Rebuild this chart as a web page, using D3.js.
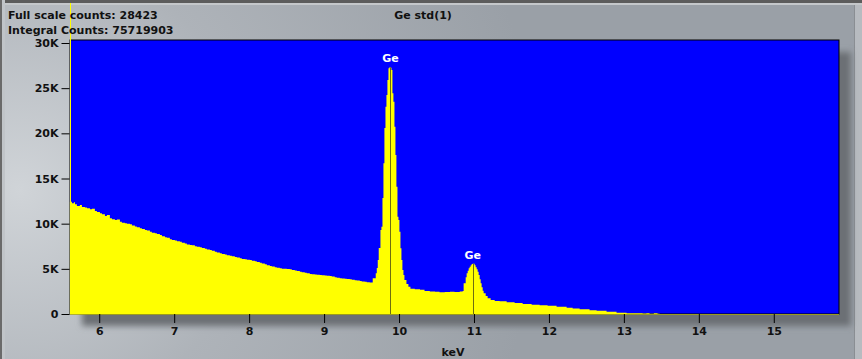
<!DOCTYPE html>
<html><head><meta charset="utf-8">
<script src="https://cdn.jsdelivr.net/npm/d3@7"></script>
<style>
html,body{margin:0;padding:0;background:#a0a6ac;}
svg{display:block;}
text{font-family:"DejaVu Sans",Verdana,sans-serif;font-weight:bold;}
</style></head>
<body>
<svg id="chart" width="862" height="359"></svg>
<script>
// ---- data ----
const title = "Ge std(1)";
const fullScaleCounts = 28423;
const integralCounts = 75719903;
const xTicks = [6, 7, 8, 9, 10, 11, 12, 13, 14, 15];
const yTicks = [0, 5000, 10000, 15000, 20000, 25000, 30000];
const xDomain = [5.61, 15.87];
const yDomain = [0, 30000];
// spectrum: energy (keV) of each step start and its counts
const energy = [
 5.609,5.636,5.662,5.676,5.702,5.742,5.769,5.809,5.836,5.876,5.902,5.942,5.969,6.009,6.036,6.076,6.102,6.142,6.169,6.209,
 6.236,6.276,6.302,6.342,6.369,6.409,6.436,6.476,6.502,6.542,6.569,6.609,6.636,6.676,6.702,6.742,6.769,6.809,6.836,6.876,
 6.902,6.942,6.969,7.009,7.036,7.076,7.102,7.142,7.169,7.209,7.236,7.276,7.302,7.342,7.369,7.409,7.436,7.476,7.502,7.542,
 7.569,7.609,7.636,7.676,7.702,7.742,7.769,7.809,7.836,7.876,7.902,7.942,7.969,8.009,8.036,8.076,8.102,8.142,8.169,8.209,
 8.236,8.276,8.302,8.342,8.369,8.409,8.436,8.476,8.502,8.542,8.569,8.609,8.636,8.676,8.702,8.742,8.769,8.809,8.836,8.876,
 8.902,8.942,8.969,9.009,9.036,9.076,9.102,9.142,9.169,9.209,9.236,9.276,9.302,9.342,9.369,9.409,9.436,9.476,9.502,9.542,
 9.569,9.609,9.649,9.689,9.703,9.716,9.729,9.752,9.765,9.779,9.792,9.805,9.819,9.832,9.845,9.859,9.872,9.885,9.899,9.912,
 9.925,9.939,9.952,9.965,9.979,9.992,10.005,10.019,10.032,10.045,10.059,10.072,10.099,10.125,10.152,10.21,10.28,10.34,10.41,10.48,
 10.54,10.61,10.68,10.74,10.81,10.849,10.862,10.889,10.902,10.916,10.929,10.942,10.956,10.969,10.982,10.996,11.009,11.022,11.036,11.049,
 11.062,11.076,11.089,11.102,11.116,11.129,11.156,11.182,11.222,11.276,11.342,11.436,11.542,11.649,11.769,11.876,11.982,12.102,12.236,12.316,
 12.409,12.542,12.636,12.769,12.902,13.036,13.249,13.30,13.342,13.40,13.449,13.476,15.87
];
const counts = [
 12430,12250,12380,12150,11950,12070,11850,11800,11700,11590,11650,11400,11300,11150,11050,10850,10950,10590,10500,10400,
 10450,10220,10100,10050,10000,9930,9800,9700,9600,9490,9420,9300,9250,9110,9000,8930,8850,8750,8600,8500,
 8450,8270,8200,8130,8050,8000,7900,7800,7700,7640,7600,7500,7450,7380,7300,7230,7150,7080,7000,6900,
 6800,6720,6650,6580,6500,6450,6380,6300,6250,6160,6100,6070,6000,5980,5900,5830,5750,5680,5600,5500,
 5400,5310,5250,5180,5120,5060,5020,5000,4980,4950,4880,4820,4750,4690,4620,4560,4500,4430,4400,4380,
 4350,4320,4290,4260,4240,4210,4150,4080,4000,3950,3920,3900,3870,3840,3800,3750,3700,3650,3600,3560,
 3520,3500,3950,4500,5090,5980,7300,9300,9670,12840,16700,20600,22950,24240,25900,27200,27310,27250,27010,24430,
 23500,20730,17600,14090,10770,10400,9110,7270,5980,4870,4320,3760,3320,3020,2800,2730,2680,2560,2500,2450,
 2420,2440,2460,2430,2480,2550,3400,4060,4500,4800,5060,5240,5390,5530,5560,5560,5390,5170,4950,4690,
 4320,3840,3400,2960,2580,2290,1990,1740,1550,1450,1400,1300,1220,1100,1020,960,900,800,700,600,
 520,420,360,250,150,80,50,90,40,70,40,0,0
];
const peakLabels = ["Ge", "Ge"];
const peakEnergies = [9.886, 10.982];
const peakCounts = [27310, 5560];

// ---- drawing ----
const svg = d3.select("#chart");
const W = 862, H = 359;
const plot = {left: 70, right: 839, top: 40, bottom: 314};

const defs = svg.append("defs");
const bg = defs.append("radialGradient").attr("id","bg")
  .attr("gradientUnits","userSpaceOnUse").attr("cx",20).attr("cy",190).attr("r",520);
bg.append("stop").attr("offset","0").attr("stop-color","#d0d4d8");
bg.append("stop").attr("offset","0.45").attr("stop-color","#aeb3b9");
bg.append("stop").attr("offset","1").attr("stop-color","#9aa0a7");
const blur = defs.append("filter").attr("id","sh").attr("x","-10%").attr("y","-10%").attr("width","130%").attr("height","130%");
blur.append("feGaussianBlur").attr("stdDeviation",3);

// background + window frame
svg.append("rect").attr("width",W).attr("height",H).attr("fill","url(#bg)");
svg.append("rect").attr("x",0).attr("y",0).attr("width",W).attr("height",3).attr("fill","#5c5c5c");
svg.append("rect").attr("x",0).attr("y",3).attr("width",W).attr("height",2).attr("fill","#c4c7ca");
svg.append("rect").attr("x",0).attr("y",0).attr("width",2).attr("height",H).attr("fill","#6a6a6a");
svg.append("rect").attr("x",2).attr("y",0).attr("width",3).attr("height",H).attr("fill","#c0c4c8");
svg.append("rect").attr("x",854).attr("y",5).attr("width",8).attr("height",H).attr("fill","#b7bbc0");
svg.append("rect").attr("x",854).attr("y",5).attr("width",1).attr("height",H).attr("fill","#8a8e93");

// shadow
svg.append("rect").attr("x",plot.left+12).attr("y",plot.top+12)
  .attr("width",plot.right-plot.left).attr("height",plot.bottom-plot.top)
  .attr("fill","#6c7075").attr("filter","url(#sh)");

const x = d3.scaleLinear().domain(xDomain).range([plot.left, plot.right]);
const y = d3.scaleLinear().domain(yDomain).range([plot.bottom, 43]);

// plot background
svg.append("rect").attr("x",plot.left).attr("y",plot.top)
  .attr("width",plot.right-plot.left).attr("height",plot.bottom-plot.top)
  .attr("fill","#0000ff").attr("stroke","#000").attr("stroke-width",1);

const data = energy.map((e,i)=>({e, c: counts[i]}));
const area = d3.area().x(d=>x(d.e)).y0(plot.bottom+0.5).y1(d=>y(d.c)).curve(d3.curveStepAfter);
svg.append("path").datum(data).attr("d",area).attr("fill","#ffff00");

// peak marker lines
svg.selectAll("line.pk").data(peakEnergies).join("line")
  .attr("x1",d=>Math.round(x(d))+0.5).attr("x2",d=>Math.round(x(d))+0.5)
  .attr("y1",(d,i)=>y(peakCounts[i])).attr("y2",plot.bottom)
  .attr("stroke","#6e6e10").attr("stroke-width",1);

// peak labels
svg.selectAll("text.pl").data(peakEnergies).join("text")
  .attr("x",d=>x(d)).attr("y",(d,i)=>y(peakCounts[i])-5)
  .attr("text-anchor","middle").attr("font-size",11).attr("fill","#ffffff")
  .text((d,i)=>peakLabels[i]);

// yellow left axis line
svg.append("line").attr("x1",plot.left+0.5).attr("x2",plot.left+0.5).attr("y1",3).attr("y2",plot.bottom)
  .attr("stroke","#ffff00").attr("stroke-width",1);

// y axis
const yAxis = d3.axisLeft(y).tickValues(yTicks).tickSize(8).tickPadding(3)
  .tickFormat(d=> d===0 ? "0" : (d/1000)+"K");
const gy = svg.append("g").attr("transform",`translate(${plot.left-0.5},0)`).call(yAxis);
gy.select(".domain").remove();
gy.selectAll("line").attr("stroke","#000");
gy.selectAll("text").attr("font-size",11).attr("fill","#111").style("font-family","DejaVu Sans").style("font-weight","bold");

// x axis
const xAxis = d3.axisBottom(x).tickValues(xTicks).tickSize(9).tickPadding(4).tickFormat(d3.format("d"));
const gx = svg.append("g").attr("transform",`translate(0,${plot.bottom})`).call(xAxis);
gx.select(".domain").remove();
gx.selectAll("line").attr("stroke","#000");
gx.selectAll("text").attr("font-size",11).attr("fill","#111").style("font-family","DejaVu Sans").style("font-weight","bold");

svg.append("text").attr("x",453).attr("y",356).attr("text-anchor","middle")
  .attr("font-size",11).attr("fill","#111").text("keV");

// header texts
svg.append("text").attr("x",8).attr("y",19).attr("font-size",11).attr("fill","#111")
  .text("Full scale counts: " + fullScaleCounts);
svg.append("text").attr("x",8).attr("y",33.5).attr("font-size",11).attr("fill","#111")
  .text("Integral Counts: " + integralCounts);
svg.append("text").attr("x",423).attr("y",19).attr("text-anchor","middle").attr("font-size",11).attr("fill","#111")
  .text(title);
</script>
</body></html>
